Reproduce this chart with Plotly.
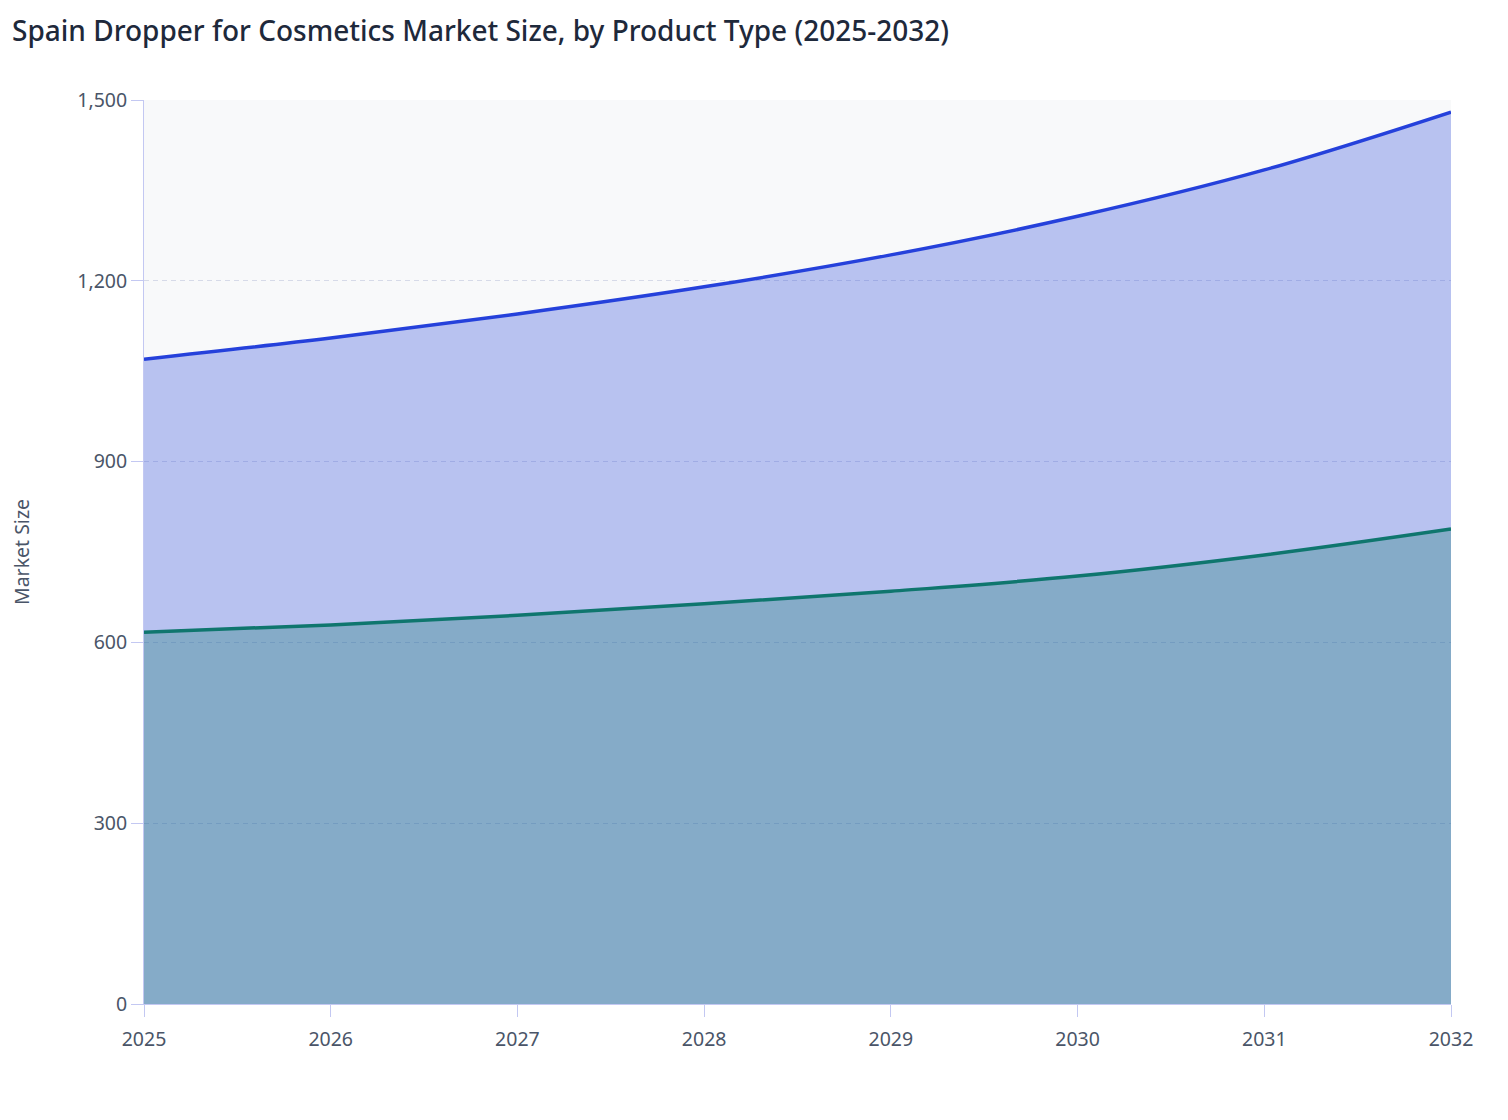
import plotly.graph_objects as go

years = [2025, 2026, 2027, 2028, 2029, 2030, 2031, 2032]
segment_a = [617, 629, 645, 664, 685, 710, 745, 788]
segment_b = [453, 476, 500, 526, 558, 597, 639, 692]
y_ticks = [0, 300, 600, 900, 1200, 1500]

total = [a + b for a, b in zip(segment_a, segment_b)]

fig = go.Figure()
fig.add_trace(go.Scatter(
    x=years, y=total, mode="lines", name="Segment B",
    line=dict(color="#2541DB", width=3.5, shape="spline"),
    fill="tozeroy", fillcolor="rgba(37,65,219,0.3)",
))
fig.add_trace(go.Scatter(
    x=years, y=segment_a, mode="lines", name="Segment A",
    line=dict(color="#0F766E", width=3.5, shape="spline"),
    fill="tozeroy", fillcolor="rgba(15,118,110,0.3)",
))

axis_col = "#C3C8F2"
fig.update_layout(
    width=1508, height=1120,
    margin=dict(l=136, r=65, t=92, b=124),
    paper_bgcolor="white", plot_bgcolor="#F8F9FA",
    font=dict(family="Noto Sans", color="#4A5568", size=20),
    showlegend=False,
    xaxis=dict(range=[2025, 2032], tickvals=years, showgrid=False,
               showline=True, linecolor=axis_col, linewidth=1,
               ticks="outside", ticklen=12, tickcolor=axis_col,
               ticklabelstandoff=6, automargin=False,
               tickfont=dict(size=19.5), zeroline=False),
    yaxis=dict(range=[0, 1500], tickvals=y_ticks, tickformat=",",
               showgrid=True, gridcolor="#D6DAE8", griddash="5px,4px", gridwidth=1,
               showline=True, linecolor=axis_col, linewidth=1,
               ticks="outside", ticklen=12, tickcolor=axis_col,
               automargin=False,
               tickfont=dict(size=19.5), zeroline=False,
               title=dict(text="Market Size", font=dict(size=19.5), standoff=47)),
    annotations=[dict(
        text="Spain Dropper for Cosmetics Market Size, by Product Type (2025-2032)",
        xref="paper", yref="paper", x=-134 / 1307, y=1 + 91 / 904,
        xanchor="left", yanchor="top", showarrow=False,
        font=dict(size=28, color="#1E293B", weight=500),
    )],
)
fig.write_html("out.html")
